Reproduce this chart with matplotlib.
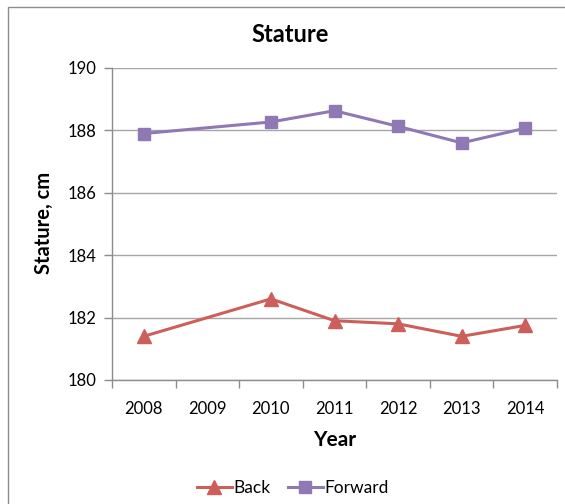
import numpy as np
import matplotlib
matplotlib.use("Agg")
import matplotlib.pyplot as plt
from matplotlib.patches import Rectangle

plt.rcParams['font.family'] = ['Lato', 'DejaVu Sans']

# year categories on the x axis; 2009 has no measurements
categories = ['2008', '2009', '2010', '2011', '2012', '2013', '2014']
data_years = ['2008', '2010', '2011', '2012', '2013', '2014']
back = [181.4, 182.6, 181.9, 181.8, 181.4, 181.75]
forward = [187.9, 188.27, 188.63, 188.13, 187.6, 188.07]

red = '#CD5F5A'
purple = '#8F78B4'
axis_grey = '#8C8C8C'

fig = plt.figure(figsize=(5.65, 5.04), dpi=100)
# outer chart frame
fig.patches.append(Rectangle((8 / 565, -0.1), 1.2, 1.1 - 7 / 504,
                             transform=fig.transFigure, fill=False,
                             edgecolor='#8C8C8C', linewidth=1.0))

ax = fig.add_axes([112 / 565, 1 - 380 / 504, 445 / 565, 312 / 504])

xpos = [categories.index(y) for y in data_years]
ax.plot(xpos, back, color=red, lw=2.2, marker='^', ms=9.5, label='Back')
ax.plot(xpos, forward, color=purple, lw=2.2, marker='s', ms=8.5, label='Forward')

ax.set_xlim(-0.5, len(categories) - 0.5)
ax.set_ylim(180, 190)
ax.set_yticks(np.arange(180, 191, 2))
ax.yaxis.grid(True, color='#A6A6A6', linewidth=1.0)
ax.set_axisbelow(True)

# tick marks between categories, labels centred on each category
ax.set_xticks(np.arange(-0.5, len(categories), 1.0))
ax.set_xticklabels([])
ax.set_xticks(np.arange(len(categories)), minor=True)
ax.set_xticklabels(categories, minor=True)
ax.tick_params(axis='x', which='major', length=6, color=axis_grey, width=1)
ax.tick_params(axis='x', which='minor', length=0, pad=15, labelsize=12)
ax.tick_params(axis='y', length=6, color=axis_grey, width=1, pad=5, labelsize=12)

for s in ['top', 'right']:
    ax.spines[s].set_visible(False)
for s in ['left', 'bottom']:
    ax.spines[s].set_color(axis_grey)
    ax.spines[s].set_linewidth(1.0)

fig.text(290 / 565, 1 - 35 / 504, 'Stature', ha='center', va='center',
         fontsize=17, fontweight='bold')
fig.text(44 / 565, 1 - 223 / 504, 'Stature, cm', ha='center', va='center',
         rotation=90, fontsize=14.5, fontweight='bold')
fig.text(335 / 565, 1 - 440 / 504, 'Year', ha='center', va='center',
         fontsize=15, fontweight='bold')

fig.legend(loc='center', bbox_to_anchor=(293 / 565, 1 - 488 / 504), ncol=2,
           frameon=False, fontsize=12.5, handlelength=2.0, handletextpad=0.1,
           columnspacing=1.0)

fig.savefig('out.png', dpi=100)
